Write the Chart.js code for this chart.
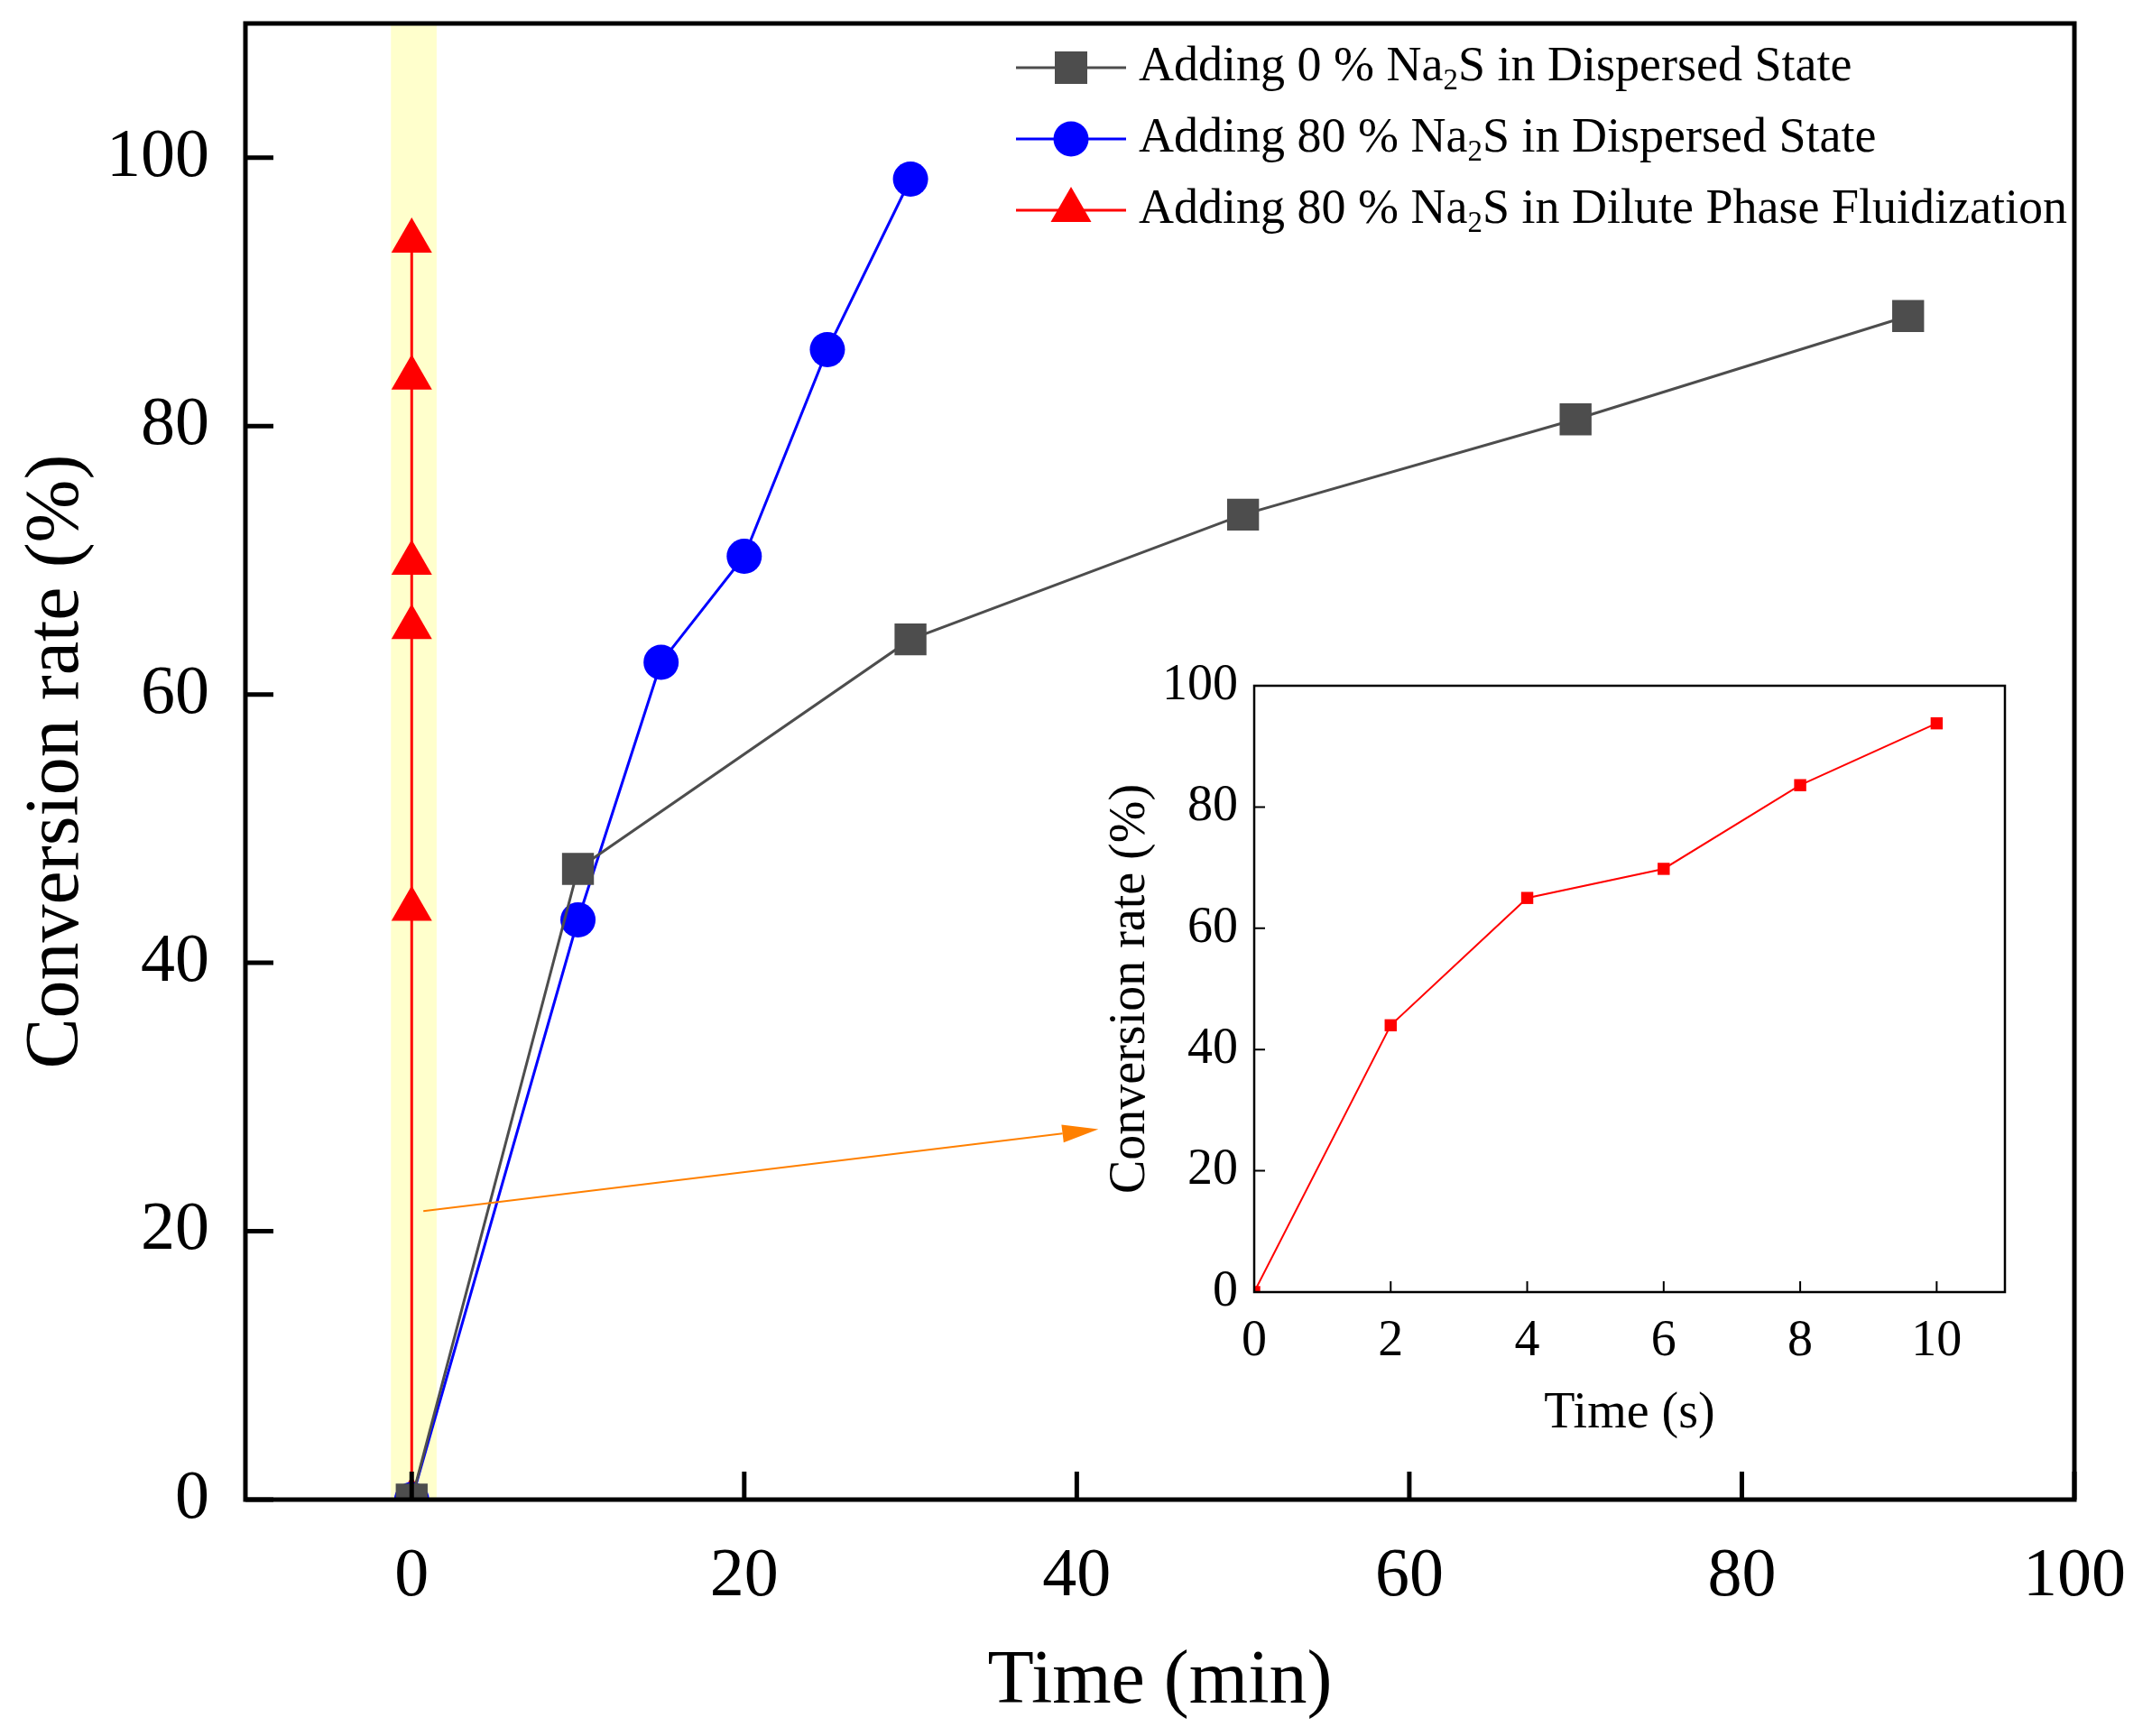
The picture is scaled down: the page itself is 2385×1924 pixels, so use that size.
<!DOCTYPE html>
<html>
<head>
<meta charset="utf-8">
<script src="https://cdn.jsdelivr.net/npm/chart.js@4.4.0/dist/chart.umd.min.js"></script>
<style>
  html, body { margin: 0; padding: 0; background: #fff; }
  #wrap { position: relative; width: 2385px; height: 1924px; }
  #mainChart { position: absolute; left: 0; top: 0; }
  #insetChart { position: absolute; left: 1180px; top: 720px; }
</style>
</head>
<body>
<div id="wrap">
  <canvas id="mainChart" width="2385" height="1924"></canvas>
  <canvas id="insetChart" width="1080" height="900"></canvas>
</div>
<script>
// series
const timeMin0 = [0, 10, 30, 50, 70, 90];
const rate0 = [0, 47.0, 64.1, 73.4, 80.5, 88.2];
const timeMin80 = [0, 10, 15, 20, 25, 30];
const rate80 = [0, 43.2, 62.4, 70.3, 85.7, 98.4];
const timeMinFluid = [0, 0, 0, 0, 0, 0];
const timeSecFluid = [0, 2, 4, 6, 8, 10];
const rateFluid = [0, 44.0, 65.0, 69.8, 83.6, 93.8];

// axis ticks
const mainXTicks = [0, 20, 40, 60, 80, 100];
const mainYTicks = [0, 20, 40, 60, 80, 100];
const insetXTicks = [0, 2, 4, 6, 8, 10];
const insetYTicks = [0, 20, 40, 60, 80, 100];

// highlighted band (min) and pointer arrow (min, %)
const bandRange = [-1.25, 1.5];
const arrowX = [0.7, 41.3];
const arrowY = [21.5, 27.6];

// legend text: [before subscript, subscript, after subscript]
const legendLabels = [
  ["Adding 0 % Na", "2", "S in Dispersed State"],
  ["Adding 80 % Na", "2", "S in Dispersed State"],
  ["Adding 80 % Na", "2", "S in Dilute Phase Fluidization"]
];

const SERIF = "'Liberation Serif', 'Times New Roman', serif";
const GREY = "#4d4d4d";
const BLUE = "#0000ff";
const RED = "#ff0000";

const toPts = (xs, ys) => xs.map((x, i) => ({ x: x, y: ys[i] }));

// inward ticks + box frame
const frameTicks = {
  id: "frameTicks",
  afterDraw(chart, args, opts) {
    const { ctx, chartArea: a, scales: { x, y } } = chart;
    ctx.save();
    ctx.strokeStyle = "#000";
    ctx.lineWidth = opts.tickWidth;
    ctx.beginPath();
    x.ticks.forEach(t => {
      const px = x.getPixelForValue(t.value);
      ctx.moveTo(px, a.bottom);
      ctx.lineTo(px, a.bottom - opts.tickLen);
    });
    y.ticks.forEach(t => {
      const py = y.getPixelForValue(t.value);
      ctx.moveTo(a.left, py);
      ctx.lineTo(a.left + opts.tickLen, py);
    });
    ctx.stroke();
    ctx.lineWidth = opts.frameWidth;
    ctx.strokeRect(a.left, a.top, a.right - a.left, a.bottom - a.top);
    ctx.restore();
  }
};

// yellow band behind the dilute-phase series
const bandPlugin = {
  id: "band",
  beforeDatasetsDraw(chart) {
    const { ctx, chartArea: a, scales: { x } } = chart;
    const x0 = x.getPixelForValue(bandRange[0]);
    const x1 = x.getPixelForValue(bandRange[1]);
    ctx.save();
    ctx.fillStyle = "#ffffcc";
    ctx.fillRect(x0, a.top, x1 - x0, a.bottom - a.top);
    ctx.restore();
  }
};

// orange arrow pointing to the inset
const arrowPlugin = {
  id: "arrow",
  afterDatasetsDraw(chart) {
    const { ctx, scales: { x, y } } = chart;
    const sx = x.getPixelForValue(arrowX[0]), sy = y.getPixelForValue(arrowY[0]);
    const ex = x.getPixelForValue(arrowX[1]), ey = y.getPixelForValue(arrowY[1]);
    const ang = Math.atan2(ey - sy, ex - sx);
    const len = 40, half = 10;
    ctx.save();
    ctx.strokeStyle = "#ff8000";
    ctx.fillStyle = "#ff8000";
    ctx.lineWidth = 2;
    ctx.beginPath();
    ctx.moveTo(sx, sy);
    ctx.lineTo(ex - len * Math.cos(ang), ey - len * Math.sin(ang));
    ctx.stroke();
    ctx.beginPath();
    ctx.moveTo(ex, ey);
    ctx.lineTo(ex - len * Math.cos(ang) + half * Math.sin(ang), ey - len * Math.sin(ang) - half * Math.cos(ang));
    ctx.lineTo(ex - len * Math.cos(ang) - half * Math.sin(ang), ey - len * Math.sin(ang) + half * Math.cos(ang));
    ctx.closePath();
    ctx.fill();
    ctx.restore();
  }
};

// legend in the upper right, with subscript 2
const legendPlugin = {
  id: "subLegend",
  afterDraw(chart) {
    const { ctx } = chart;
    const size = 54;
    chart.data.datasets.forEach((ds, i) => {
      const yc = 75 + 79 * i;
      ctx.save();
      ctx.strokeStyle = ds.borderColor;
      ctx.fillStyle = ds.backgroundColor;
      ctx.lineWidth = 3;
      ctx.beginPath();
      ctx.moveTo(1126, yc);
      ctx.lineTo(1248, yc);
      ctx.stroke();
      ctx.beginPath();
      const mx = 1187;
      if (ds.pointStyle === "rect") {
        ctx.rect(mx - 18, yc - 18, 36, 36);
      } else if (ds.pointStyle === "circle") {
        ctx.arc(mx, yc, 19.5, 0, Math.PI * 2);
      } else {
        const r = 26;
        ctx.moveTo(mx, yc - r);
        ctx.lineTo(mx + r * 0.866, yc + r * 0.5);
        ctx.lineTo(mx - r * 0.866, yc + r * 0.5);
        ctx.closePath();
      }
      ctx.fill();
      ctx.fillStyle = "#000";
      ctx.textBaseline = "middle";
      let tx = 1262;
      const parts = legendLabels[i];
      ctx.font = size + "px " + SERIF;
      ctx.fillText(parts[0], tx, yc);
      tx += ctx.measureText(parts[0]).width;
      ctx.font = Math.round(size * 0.62) + "px " + SERIF;
      ctx.fillText(parts[1], tx, yc + size * 0.28);
      tx += ctx.measureText(parts[1]).width;
      ctx.font = size + "px " + SERIF;
      ctx.fillText(parts[2], tx, yc);
      ctx.restore();
    });
  }
};

// keep the plot box where we put it, ignoring label overhang
const fixX = h => s => { s.height = h; s.paddingLeft = 0; s.paddingRight = 0; };
const fixY = w => s => { s.width = w; s.paddingTop = 0; s.paddingBottom = 0; };

new Chart(document.getElementById("mainChart"), {
  type: "scatter",
  data: {
    datasets: [{
      label: "Adding 0 % Na2S in Dispersed State",
      data: toPts(timeMin0, rate0),
      showLine: true,
      borderColor: GREY,
      backgroundColor: GREY,
      borderWidth: 3,
      pointStyle: "rect",
      pointRadius: 25,
      pointBorderWidth: 0,
      clip: 0
    }, {
      label: "Adding 80 % Na2S in Dispersed State",
      data: toPts(timeMin80, rate80),
      showLine: true,
      borderColor: BLUE,
      backgroundColor: BLUE,
      borderWidth: 3,
      pointStyle: "circle",
      pointRadius: 19.5,
      pointBorderWidth: 0,
      clip: 0
    }, {
      label: "Adding 80 % Na2S in Dilute Phase Fluidization",
      data: toPts(timeMinFluid, rateFluid),
      showLine: true,
      borderColor: RED,
      backgroundColor: RED,
      borderWidth: 3,
      pointStyle: "triangle",
      pointRadius: 26,
      pointBorderWidth: 0,
      clip: 0
    }]
  },
  options: {
    responsive: false,
    animation: false,
    devicePixelRatio: 1,
    layout: { padding: { left: 0, right: 86, top: 25, bottom: 0 } },
    plugins: {
      legend: { display: false },
      tooltip: { enabled: false },
      frameTicks: { tickWidth: 5, tickLen: 31, frameWidth: 5 }
    },
    scales: {
      x: {
        type: "linear",
        min: -10,
        max: 100,
        afterBuildTicks: s => { s.ticks = mainXTicks.map(v => ({ value: v })); },
        afterFit: fixX(262),
        grid: { display: false },
        border: { display: false },
        ticks: { color: "#000", font: { family: SERIF, size: 76 }, padding: 32, maxRotation: 0 },
        title: { display: true, text: "Time (min)", color: "#000", font: { family: SERIF, size: 84 }, padding: { top: 0, bottom: 9 } }
      },
      y: {
        type: "linear",
        min: 0,
        max: 110,
        afterBuildTicks: s => { s.ticks = mainYTicks.map(v => ({ value: v })); },
        afterFit: fixY(272),
        grid: { display: false },
        border: { display: false },
        ticks: { color: "#000", font: { family: SERIF, size: 76 }, padding: 32 },
        title: { display: true, text: "Conversion rate (%)", color: "#000", font: { family: SERIF, size: 84 }, padding: { top: 14, bottom: 0 } }
      }
    }
  },
  plugins: [bandPlugin, arrowPlugin, frameTicks, legendPlugin]
});

new Chart(document.getElementById("insetChart"), {
  type: "scatter",
  data: {
    datasets: [{
      label: "Dilute Phase Fluidization",
      data: toPts(timeSecFluid, rateFluid),
      showLine: true,
      borderColor: RED,
      backgroundColor: RED,
      borderWidth: 2,
      pointStyle: "rect",
      pointRadius: 9.5,
      pointBorderWidth: 0,
      clip: 0
    }]
  },
  options: {
    responsive: false,
    animation: false,
    devicePixelRatio: 1,
    layout: { padding: { left: 0, right: 38, top: 40, bottom: 0 } },
    plugins: {
      legend: { display: false },
      tooltip: { enabled: false },
      frameTicks: { tickWidth: 2, tickLen: 12, frameWidth: 2.5 }
    },
    scales: {
      x: {
        type: "linear",
        min: 0,
        max: 11,
        afterBuildTicks: s => { s.ticks = insetXTicks.map(v => ({ value: v })); },
        afterFit: fixX(188),
        grid: { display: false },
        border: { display: false },
        ticks: { color: "#000", font: { family: SERIF, size: 56 }, padding: 14, maxRotation: 0 },
        title: { display: true, text: "Time (s)", color: "#000", font: { family: SERIF, size: 56 }, padding: { top: 0, bottom: 19 } }
      },
      y: {
        type: "linear",
        min: 0,
        max: 100,
        afterBuildTicks: s => { s.ticks = insetYTicks.map(v => ({ value: v })); },
        afterFit: fixY(210),
        grid: { display: false },
        border: { display: false },
        ticks: { color: "#000", font: { family: SERIF, size: 56 }, padding: 10 },
        title: { display: true, text: "Conversion rate (%)", color: "#000", font: { family: SERIF, size: 56 }, padding: { top: 40, bottom: 0 } }
      }
    }
  },
  plugins: [frameTicks]
});
</script>
</body>
</html>
